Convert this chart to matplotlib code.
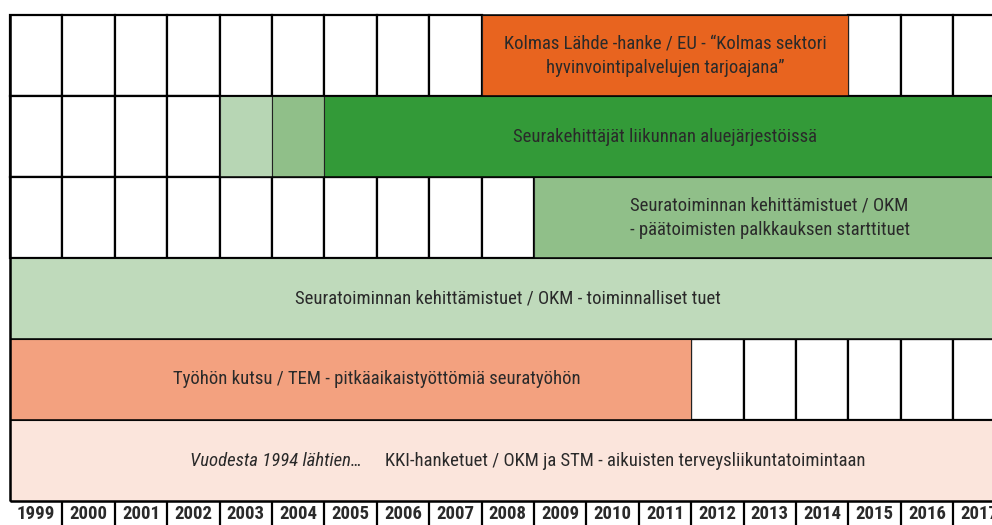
import matplotlib.pyplot as plt
from matplotlib import font_manager

# Years shown as columns
years = list(range(1999, 2018))

# Projects: row (0 = top), first and last year, label
rows = [0, 1, 1, 1, 2, 3, 4, 5]
start_years = [2008, 2003, 2004, 2005, 2009, 1999, 1999, 1999]
end_years = [2014, 2003, 2004, 2017, 2017, 2017, 2011, 2017]
labels = [
    'Kolmas Lähde -hanke / EU - \u201cKolmas sektori\nhyvinvointipalvelujen tarjoajana\u201d',
    '',
    '',
    'Seurakehittäjät liikunnan aluejärjestöissä',
    'Seuratoiminnan kehittämistuet / OKM\n- päätoimisten palkkauksen starttituet',
    'Seuratoiminnan kehittämistuet / OKM - toiminnalliset tuet',
    'Työhön kutsu / TEM - pitkäaikaistyöttömiä seuratyöhön',
    'KKI-hanketuet / OKM ja STM - aikuisten terveysliikuntatoimintaan',
]
note_text = 'Vuodesta 1994 lähtien\u2026'

bar_colors = ['#e8641f', '#b7d6b4', '#90bf89', '#339a38',
              '#90bf89', '#bfdabb', '#f3a17f', '#fbe5dc']
# label centre shift (in years) relative to the bar centre
label_shift = [0, 0, 0, 0, 0, 0, 0.5, 0]

fams = ['Liberation Sans Narrow', 'Roboto Condensed', 'Open Sans Condensed', 'DejaVu Sans']
avail = {f.name for f in font_manager.fontManager.ttflist}
fams = [f for f in fams if f in avail] or ['DejaVu Sans']
plt.rcParams['font.family'] = fams
narrow = fams[0] != 'DejaVu Sans'
fs = 13.5 if narrow else 10.5
yfs = 13.5 if narrow else 11
txt_color = '#2a2a2a'

fig = plt.figure(figsize=(9.92, 5.25), dpi=100)
ax = fig.add_axes([0, 0, 1, 1])
col = 52.4
ax.set_xlim(1999 - 10 / col, 1999 + 982 / col)
ax.set_ylim(510 / 81, -15 / 81)
ax.axis('off')

# white grid cells where no project runs
for r in [0, 1, 2, 4]:
    used = set()
    for rr, s, e in zip(rows, start_years, end_years):
        if rr == r:
            used.update(range(s, e + 1))
    free = [y for y in years if y not in used]
    ax.barh([r + 0.5] * len(free), [1] * len(free), left=free, height=1,
            color='white', edgecolor='black', linewidth=1.6)

# project bars
for r, s, e, c in zip(rows, start_years, end_years, bar_colors):
    ax.barh(r + 0.5, e - s + 1, left=s, height=1, color=c,
            edgecolor='#222222', linewidth=0.8)

# horizontal row lines and left edge
ax.hlines(range(0, 6), years[0], years[-1] + 1, color='black', lw=1.1)
ax.hlines(6, years[0], years[-1] + 1, color='black', lw=1.8)
ax.vlines(years[0], 0, 6, color='black', lw=1.8)

# labels
for r, s, e, t, sh in zip(rows, start_years, end_years, labels, label_shift):
    if not t or r == 5:
        continue
    ax.text((s + e + 1) / 2 + sh, r + 0.5, t, ha='center', va='center',
            fontsize=fs, color=txt_color, linespacing=1.45,
            multialignment='left' if r == 2 else 'center')

# bottom row: italic note + text
ax.text(1999 + 352 / col, 5.5, note_text, ha='right', va='center',
        fontsize=fs, color=txt_color, style='italic')
ax.text(1999 + 375 / col, 5.5, labels[-1], ha='left', va='center',
        fontsize=fs, color=txt_color)

# year axis
for y in years:
    ax.text(y + 0.5, 6.165, str(y), ha='center', va='center',
            fontsize=yfs, fontweight='bold', color=txt_color)
ax.vlines(years[1:], 6, 510 / 81, color='black', lw=1.6)

fig.savefig('out.png', dpi=100)
